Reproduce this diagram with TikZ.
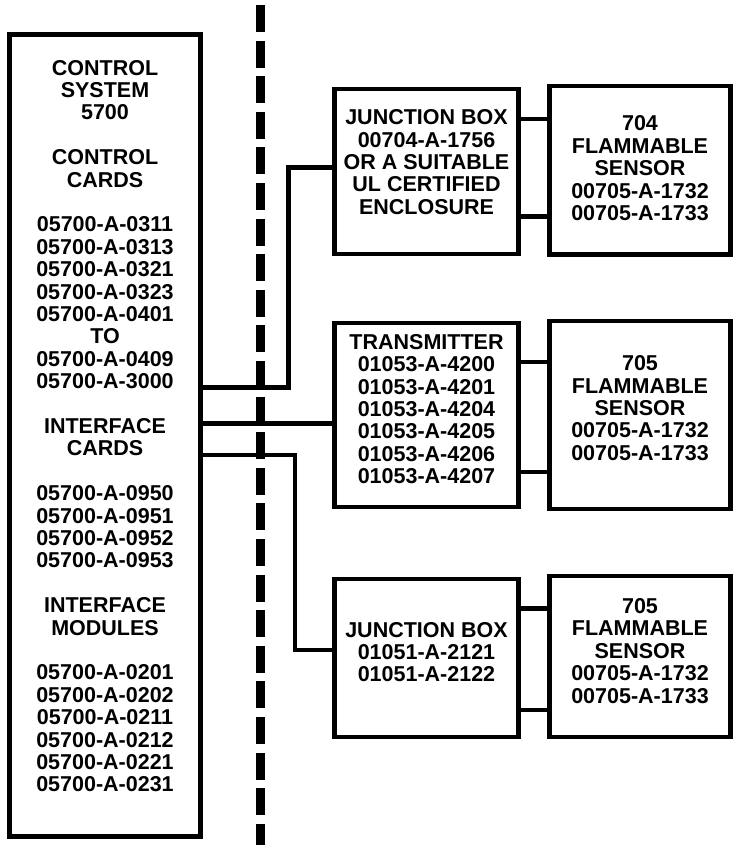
\documentclass[tikz,border=0pt]{standalone}
\usepackage{fontspec}
\setmainfont{Liberation Sans}
\usepackage{tikz}
\tikzset{
    unit/.style = {rectangle, draw=black, line width=4.5pt, align=center, inner sep=0pt, text depth=12pt, font=\fontsize{21.5pt}{22.4pt}\selectfont\bfseries},
    panel/.style = {unit, minimum width=191pt, minimum height=802pt, text depth=19pt},
    jbox/.style = {unit, minimum width=184pt},
    sensor/.style = {unit, minimum width=181pt},
    wire/.style = {line width=4.5pt},
    barrier/.style = {line width=9pt, dash pattern=on 27pt off 8.6pt}
}

\begin{document}
\begin{tikzpicture}[x=1pt, y=-1pt, node distance=321.5pt]
\useasboundingbox (0,0) rectangle (733,845);

\node (ctrl) [panel] at (105,435.5) {CONTROL\\SYSTEM\\5700\\[22.4pt]
    CONTROL\\CARDS\\[22.4pt]
    05700-A-0311\\05700-A-0313\\05700-A-0321\\05700-A-0323\\05700-A-0401\\TO\\05700-A-0409\\05700-A-3000\\[22.4pt]
    INTERFACE\\CARDS\\[22.4pt]
    05700-A-0950\\05700-A-0951\\05700-A-0952\\05700-A-0953\\[22.4pt]
    INTERFACE\\MODULES\\[22.4pt]
    05700-A-0201\\05700-A-0202\\05700-A-0211\\05700-A-0212\\05700-A-0221\\05700-A-0231};

\node (tx) [jbox, minimum height=184pt, right of=ctrl, yshift=20.5pt] {TRANSMITTER\\01053-A-4200\\01053-A-4201\\01053-A-4204\\01053-A-4205\\01053-A-4206\\01053-A-4207};
\node (jba) [jbox, minimum height=165pt, text depth=19pt, node distance=243.5pt, above of=tx] {JUNCTION BOX\\00704-A-1756\\OR A SUITABLE\\UL CERTIFIED\\ENCLOSURE};
\node (jbb) [jbox, minimum height=158pt, node distance=243pt, below of=tx] {JUNCTION BOX\\01051-A-2121\\01051-A-2122};

\node (s704) [sensor, minimum height=168.7pt, text depth=4pt, node distance=213.5pt, right of=jba, yshift=1.3pt] {704\\FLAMMABLE\\SENSOR\\00705-A-1732\\00705-A-1733};
\node (s705a) [sensor, minimum height=188pt, text depth=14pt, node distance=213.5pt, right of=tx] {705\\FLAMMABLE\\SENSOR\\00705-A-1732\\00705-A-1733};
\node (s705b) [sensor, minimum height=161pt, node distance=213.5pt, right of=jbb, yshift=1.3pt] {705\\FLAMMABLE\\SENSOR\\00705-A-1732\\00705-A-1733};

% hazardous area boundary
\draw [barrier] (260.5,5) -- (260.5,845);

% control system to field devices
\draw [wire] ([yshift=48pt]ctrl.east) -| ([xshift=-44pt,yshift=4pt]jba.west) -- ([yshift=4pt]jba.west);
\draw [wire] ([yshift=12pt]ctrl.east) -- ([yshift=-8.5pt]tx.west);
\draw [wire] ([yshift=-19.5pt]ctrl.east) -| ([xshift=-37.5pt,yshift=7.8pt]jbb.west) -- ([yshift=7.8pt]jbb.west);

% field devices to sensors
\draw [wire] ([yshift=52.7pt]jba.east) -- ([yshift=51.4pt]s704.west);
\draw [wire] ([yshift=-45.2pt]jba.east) -- ([yshift=-46.5pt]s704.west);
\draw [wire] ([yshift=53.2pt]tx.east) -- ([yshift=53.2pt]s705a.west);
\draw [wire] ([yshift=-56.8pt]tx.east) -- ([yshift=-56.8pt]s705a.west);
\draw [wire] ([yshift=49.5pt]jbb.east) -- ([yshift=48.2pt]s705b.west);
\draw [wire] ([yshift=-51.8pt]jbb.east) -- ([yshift=-53.1pt]s705b.west);
\end{tikzpicture}
\end{document}
